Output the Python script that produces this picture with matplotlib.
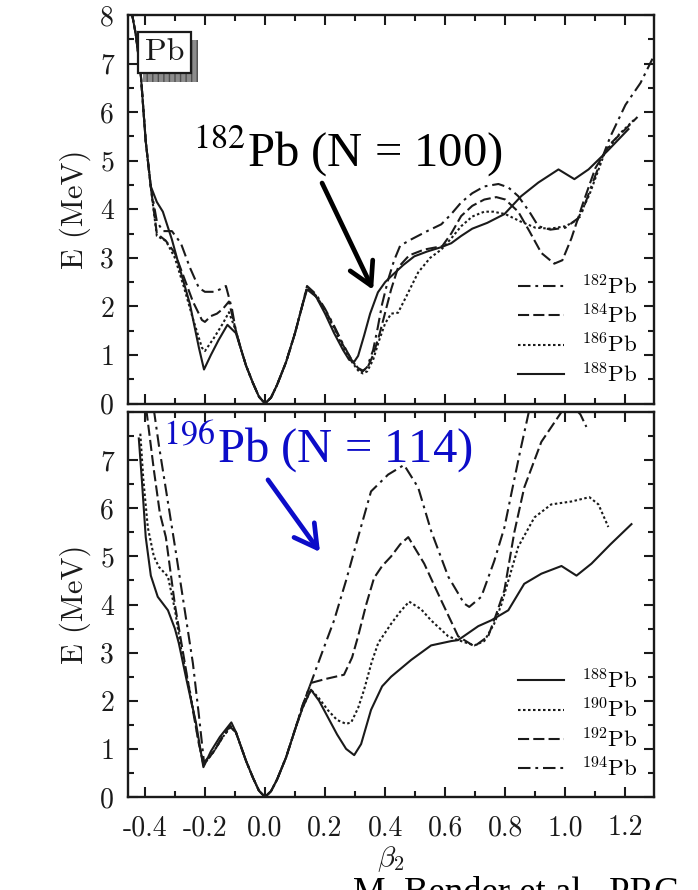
import matplotlib
matplotlib.use("Agg")
import matplotlib.pyplot as plt
from matplotlib.patches import Rectangle
from matplotlib.ticker import MultipleLocator

plt.rcParams['font.family'] = ['cmr10', 'DejaVu Serif']
plt.rcParams['mathtext.fontset'] = 'cm'
plt.rcParams['axes.unicode_minus'] = False
plt.rcParams['axes.formatter.use_mathtext'] = True
plt.rcParams['lines.scale_dashes'] = False

# ---------------- data: deformation energy curves (beta_2, E in MeV) ----------------
# upper panel: 182-188Pb
pb182_x = [-0.445, -0.43, -0.413, -0.397, -0.38, -0.36, -0.34, -0.31, -0.28, -0.25, -0.22, -0.2, -0.17,
           -0.15, -0.13, -0.11, -0.097, -0.08, -0.063, -0.04, -0.02, 0.0, 0.02, 0.04, 0.07, 0.1, 0.12,
           0.14, 0.17, 0.2, 0.23, 0.26, 0.29, 0.31, 0.325, 0.34, 0.36, 0.375, 0.39, 0.41, 0.43, 0.45,
           0.487, 0.54, 0.587, 0.62, 0.653, 0.69, 0.73, 0.777, 0.81, 0.843, 0.88, 0.91, 0.95, 1.0,
           1.05, 1.1, 1.15, 1.2, 1.25, 1.29]
pb182_e = [8.1, 7.6, 6.74, 5.4, 4.45, 3.75, 3.55, 3.55, 3.3, 2.8, 2.38, 2.3, 2.3,
           2.35, 2.42, 1.95, 1.5, 1.12, 0.78, 0.42, 0.14, 0.0, 0.12, 0.38, 0.85, 1.45, 1.92,
           2.42, 2.25, 1.95, 1.6, 1.22, 0.88, 0.72, 0.66, 0.75, 1.1, 1.55, 2.05, 2.55, 2.95, 3.25,
           3.38, 3.55, 3.69, 3.9, 4.14, 4.33, 4.47, 4.52, 4.45, 4.27, 3.95, 3.65, 3.58, 3.62,
           3.85, 4.7, 5.5, 6.15, 6.6, 7.1]

pb184_x = [-0.445, -0.43, -0.413, -0.397, -0.38, -0.36, -0.33, -0.3, -0.27, -0.24, -0.21, -0.2, -0.18,
           -0.16, -0.14, -0.12, -0.097, -0.08, -0.063, -0.04, -0.02, 0.0, 0.02, 0.04, 0.07, 0.1, 0.12,
           0.14, 0.17, 0.2, 0.23, 0.26, 0.29, 0.31, 0.325, 0.34, 0.36, 0.38, 0.397, 0.42, 0.443, 0.48,
           0.53, 0.59, 0.62, 0.653, 0.69, 0.73, 0.77, 0.8, 0.843, 0.88, 0.92, 0.963, 0.99, 1.02,
           1.06, 1.1, 1.15, 1.2, 1.24]
pb184_e = [8.1, 7.6, 6.74, 5.4, 4.45, 3.5, 3.35, 3.1, 2.6, 2.1, 1.72, 1.68, 1.8,
           1.85, 1.95, 2.1, 1.5, 1.12, 0.78, 0.42, 0.14, 0.0, 0.12, 0.38, 0.85, 1.45, 1.92,
           2.4, 2.22, 1.93, 1.58, 1.2, 0.88, 0.73, 0.68, 0.72, 1.0, 1.4, 1.8, 2.35, 2.8, 3.05,
           3.17, 3.24, 3.5, 3.86, 4.07, 4.2, 4.25, 4.2, 3.95, 3.55, 3.1, 2.88, 2.95, 3.4,
           4.15, 4.85, 5.35, 5.65, 5.9]

pb186_x = [-0.445, -0.43, -0.413, -0.397, -0.38, -0.36, -0.33, -0.3, -0.27, -0.24, -0.21, -0.2, -0.17,
           -0.14, -0.12, -0.097, -0.08, -0.063, -0.04, -0.02, 0.0, 0.02, 0.04, 0.07, 0.1, 0.12,
           0.14, 0.17, 0.2, 0.23, 0.26, 0.29, 0.31, 0.325, 0.34, 0.36, 0.38, 0.4, 0.42, 0.443, 0.47,
           0.51, 0.55, 0.587, 0.62, 0.653, 0.69, 0.73, 0.76, 0.8, 0.85, 0.9, 0.95, 1.0, 1.04,
           1.08, 1.13, 1.18, 1.23]
pb186_e = [8.1, 7.6, 6.74, 5.4, 4.45, 3.45, 3.35, 3.0, 2.4, 1.75, 1.15, 1.08, 1.35,
           1.65, 1.88, 1.5, 1.12, 0.78, 0.42, 0.14, 0.0, 0.12, 0.38, 0.85, 1.45, 1.92,
           2.38, 2.2, 1.9, 1.55, 1.15, 0.85, 0.68, 0.62, 0.66, 0.9, 1.3, 1.65, 1.85, 1.87, 2.2,
           2.7, 3.0, 3.17, 3.4, 3.65, 3.85, 3.95, 3.95, 3.9, 3.75, 3.62, 3.6, 3.65, 3.78,
           4.3, 5.15, 5.55, 5.85]

pb188_x = [-0.445, -0.43, -0.413, -0.397, -0.38, -0.36, -0.34, -0.31, -0.28, -0.25, -0.22, -0.203, -0.18,
           -0.155, -0.125, -0.097, -0.08, -0.063, -0.04, -0.02, 0.0, 0.02, 0.04, 0.07, 0.1, 0.12,
           0.14, 0.17, 0.2, 0.23, 0.26, 0.28, 0.297, 0.31, 0.33, 0.35, 0.376, 0.4, 0.42, 0.46, 0.497,
           0.54, 0.587, 0.62, 0.653, 0.69, 0.74, 0.797, 0.853, 0.91, 0.977, 1.03, 1.077, 1.14, 1.21]
pb188_e = [8.1, 7.6, 6.74, 5.4, 4.47, 4.15, 3.95, 3.38, 2.7, 2.05, 1.15, 0.7, 1.0,
           1.3, 1.62, 1.45, 1.12, 0.78, 0.42, 0.14, 0.0, 0.12, 0.38, 0.85, 1.45, 1.92,
           2.35, 2.2, 1.85, 1.45, 1.1, 0.9, 0.86, 0.98, 1.4, 1.85, 2.29, 2.5, 2.62, 2.85, 3.03,
           3.13, 3.22, 3.3, 3.45, 3.6, 3.72, 3.9, 4.27, 4.55, 4.82, 4.62, 4.82, 5.2, 5.65]

# lower panel: 188-194Pb
pb188b_x = [-0.42, -0.41, -0.397, -0.38, -0.357, -0.323, -0.3, -0.287, -0.26, -0.23, -0.205, -0.18,
            -0.15, -0.112, -0.097, -0.08, -0.063, -0.04, -0.02, 0.0, 0.02, 0.04, 0.07, 0.1, 0.125,
            0.153, 0.18, 0.21, 0.24, 0.27, 0.297, 0.32, 0.353, 0.39, 0.42, 0.487, 0.553, 0.62,
            0.643, 0.71, 0.753, 0.81, 0.863, 0.92, 0.987, 1.037, 1.087, 1.15, 1.22]
pb188b_e = [7.45, 6.6, 5.4, 4.6, 4.16, 3.88, 3.5, 3.2, 2.4, 1.55, 0.62, 0.95,
            1.25, 1.55, 1.35, 1.05, 0.75, 0.4, 0.13, 0.0, 0.12, 0.36, 0.82, 1.4, 1.85,
            2.23, 2.0, 1.65, 1.3, 1.0, 0.87, 1.1, 1.81, 2.3, 2.5, 2.85, 3.15, 3.24,
            3.26, 3.55, 3.67, 3.88, 4.43, 4.64, 4.8, 4.6, 4.85, 5.25, 5.67]

pb190_x = [-0.415, -0.405, -0.39, -0.37, -0.353, -0.323, -0.3, -0.28, -0.25, -0.225, -0.205, -0.17,
           -0.14, -0.115, -0.097, -0.08, -0.063, -0.04, -0.02, 0.0, 0.02, 0.04, 0.07, 0.1, 0.125,
           0.153, 0.18, 0.21, 0.24, 0.27, 0.287, 0.31, 0.33, 0.355, 0.377, 0.42, 0.45, 0.48, 0.52,
           0.553, 0.61, 0.643, 0.697, 0.73, 0.763, 0.787, 0.815, 0.843, 0.897, 0.953, 1.02, 1.08,
           1.11, 1.143]
pb190_e = [7.55, 6.6, 5.6, 5.0, 4.78, 4.58, 3.9, 3.1, 2.2, 1.3, 0.66, 0.95,
           1.25, 1.45, 1.35, 1.05, 0.75, 0.4, 0.13, 0.0, 0.12, 0.36, 0.82, 1.4, 1.85,
           2.23, 2.05, 1.8, 1.6, 1.52, 1.55, 1.85, 2.23, 2.8, 3.2, 3.6, 3.85, 4.06, 3.9,
           3.67, 3.34, 3.26, 3.15, 3.24, 3.6, 4.0, 4.6, 5.2, 5.81, 6.08, 6.14, 6.23,
           6.08, 5.61]

pb192_x = [-0.395, -0.37, -0.35, -0.33, -0.3, -0.27, -0.24, -0.22, -0.203, -0.17,
           -0.14, -0.115, -0.097, -0.08, -0.063, -0.04, -0.02, 0.0, 0.02, 0.04, 0.07, 0.1, 0.125,
           0.153, 0.2, 0.263, 0.29, 0.31, 0.337, 0.363, 0.39, 0.42, 0.45, 0.477, 0.53, 0.587,
           0.643, 0.697, 0.743, 0.77, 0.797, 0.83, 0.863, 0.92, 0.987, 1.02, 1.05, 1.07]
pb192_e = [8.05, 6.8, 5.9, 5.4, 4.0, 2.9, 1.8, 1.1, 0.68, 0.95,
           1.28, 1.48, 1.35, 1.05, 0.75, 0.4, 0.13, 0.0, 0.12, 0.36, 0.82, 1.4, 1.9,
           2.37, 2.45, 2.54, 2.9, 3.34, 4.0, 4.55, 4.8, 5.0, 5.25, 5.4, 4.85, 4.08,
           3.34, 3.13, 3.34, 3.8, 4.3, 5.5, 6.43, 7.38, 8.0, 8.15, 7.95, 7.69]

pb194_x = [-0.37, -0.353, -0.33, -0.297, -0.27, -0.24, -0.22, -0.203, -0.17,
           -0.14, -0.115, -0.097, -0.08, -0.063, -0.04, -0.02, 0.0, 0.02, 0.04, 0.07, 0.1, 0.125,
           0.153, 0.19, 0.23, 0.27, 0.31, 0.353, 0.41, 0.463, 0.51, 0.553, 0.61, 0.663, 0.68,
           0.72, 0.763, 0.797, 0.82, 0.85, 0.88]
pb194_e = [8.05, 7.3, 6.4, 5.1, 4.0, 2.78, 1.7, 0.72, 0.95,
           1.25, 1.45, 1.35, 1.05, 0.75, 0.4, 0.13, 0.0, 0.12, 0.36, 0.82, 1.4, 1.9,
           2.37, 3.0, 3.67, 4.5, 5.4, 6.35, 6.7, 6.9, 6.43, 5.53, 4.58, 4.02, 3.95,
           4.16, 4.9, 5.6, 6.3, 7.2, 8.05]

top_labels = ['$^{182}\\mathrm{Pb}$', '$^{184}\\mathrm{Pb}$', '$^{186}\\mathrm{Pb}$', '$^{188}\\mathrm{Pb}$']
bottom_labels = ['$^{188}\\mathrm{Pb}$', '$^{190}\\mathrm{Pb}$', '$^{192}\\mathrm{Pb}$', '$^{194}\\mathrm{Pb}$']

x_ticks = [-0.4, -0.2, 0.0, 0.2, 0.4, 0.6, 0.8, 1.0, 1.2]
x_ticklabels = ['-0.4', '-0.2', '0.0', '0.2', '0.4', '0.6', '0.8', '1.0', '1.2']
y_ticks_top = [0, 1, 2, 3, 4, 5, 6, 7, 8]
y_ticks_bottom = [0, 1, 2, 3, 4, 5, 6, 7]

note_top = '$^{182}$Pb (N = 100)'
note_bottom = '$^{196}$Pb (N = 114)'
citation = 'M. Bender et al., PRC'

# ---------------- styles ----------------
ink = '#1a1a1a'
lw = 1.5
sty_dashdot = (0, (9, 3.5, 2, 3.5))
sty_dashed = (0, (8, 3))
sty_dotted = (0, (1.8, 1.8))
sty_solid = '-'
blue = '#0c0cc8'

fig = plt.figure(figsize=(6.98, 8.90), dpi=100)
ax_top = fig.add_axes([128 / 698, (890 - 403.5) / 890, 526 / 698, 388.5 / 890])
ax_bot = fig.add_axes([128 / 698, (890 - 797) / 890, 526 / 698, 385 / 890])

h_top = []
for xs, es, ls in [(pb182_x, pb182_e, sty_dashdot), (pb184_x, pb184_e, sty_dashed),
                   (pb186_x, pb186_e, sty_dotted), (pb188_x, pb188_e, sty_solid)]:
    h_top.append(ax_top.plot(xs, es, color=ink, lw=lw, linestyle=ls)[0])

h_bot = []
for xs, es, ls in [(pb188b_x, pb188b_e, sty_solid), (pb190_x, pb190_e, sty_dotted),
                   (pb192_x, pb192_e, sty_dashed), (pb194_x, pb194_e, sty_dashdot)]:
    h_bot.append(ax_bot.plot(xs, es, color=ink, lw=lw, linestyle=ls)[0])

for ax, yt in [(ax_top, y_ticks_top), (ax_bot, y_ticks_bottom)]:
    ax.set_xlim(-0.456, 1.295)
    ax.set_ylim(0, 8)
    ax.set_xticks(x_ticks)
    ax.xaxis.set_minor_locator(MultipleLocator(0.1))
    ax.set_yticks(yt)
    ax.set_yticklabels([str(v) for v in yt])
    ax.yaxis.set_minor_locator(MultipleLocator(0.5))
    ax.tick_params(which='both', direction='in', top=True, right=True, width=1.5, color=ink,
                   labelsize=20, labelcolor=ink)
    ax.tick_params(which='major', length=7)
    ax.tick_params(which='minor', length=4)
    ax.tick_params(axis='y', pad=10)
    ax.tick_params(axis='x', pad=13)
    for sp in ax.spines.values():
        sp.set_linewidth(1.7)
        sp.set_color(ink)
    ax.set_ylabel('E (MeV)', fontsize=22, color=ink)
    ax.yaxis.label.set_va('center')
    ax.yaxis.set_label_coords(-0.1, 0.5)

ax_top.set_xticklabels([])
ax_bot.set_xticklabels(x_ticklabels)
ax_bot.set_xlabel(r'$\beta_2$', fontsize=21, color=ink, labelpad=2)

leg_kw = dict(frameon=False, fontsize=16.5, handlelength=2.0, handletextpad=0.75,
              labelspacing=0.22, borderpad=0, borderaxespad=0, loc='lower right')
ax_top.legend(h_top, top_labels, bbox_to_anchor=(0.968, 0.045), **leg_kw)
ax_bot.legend(h_bot, bottom_labels, bbox_to_anchor=(0.968, 0.043), **leg_kw)

# element tag with drop shadow
ax_top.add_patch(Rectangle((0.0285, 0.828), 0.1045, 0.108, transform=ax_top.transAxes,
                           facecolor='#8c8c8c', edgecolor='#505050', hatch='|||', lw=0, zorder=5))
ax_top.add_patch(Rectangle((0.019, 0.851), 0.1005, 0.105, transform=ax_top.transAxes,
                           facecolor='white', edgecolor=ink, lw=1.6, zorder=6))
ax_top.text(0.0693, 0.9035, 'Pb', transform=ax_top.transAxes, ha='center', va='center',
            fontsize=23, color=ink, zorder=7)

# annotations
ax_top.text(-0.24, 4.87, note_top, fontsize=35, family='Liberation Serif', math_fontfamily='stix',
            color='black', ha='left', va='baseline', zorder=8)
ax_top.annotate('', xy=(0.36, 2.34), xytext=(0.19, 4.54),
                arrowprops=dict(arrowstyle='->,head_length=0.8,head_width=0.45', lw=3.4,
                                color='black', mutation_scale=20, shrinkA=0, shrinkB=0), zorder=8)

ax_bot.text(-0.34, 6.96, note_bottom, fontsize=35, family='Liberation Serif', math_fontfamily='stix',
            color=blue, ha='left', va='baseline', zorder=8)
ax_bot.annotate('', xy=(0.183, 5.09), xytext=(0.01, 6.59),
                arrowprops=dict(arrowstyle='->,head_length=0.8,head_width=0.45', lw=3.4,
                                color=blue, mutation_scale=20, shrinkA=0, shrinkB=0), zorder=8)

# source line, running off the lower edge of the page
fig.text(353 / 698, (890 - 902.5) / 890, citation, fontsize=26.5, family='Liberation Serif',
         color='black', ha='left', va='baseline')

fig.savefig('out.png', dpi=100)
